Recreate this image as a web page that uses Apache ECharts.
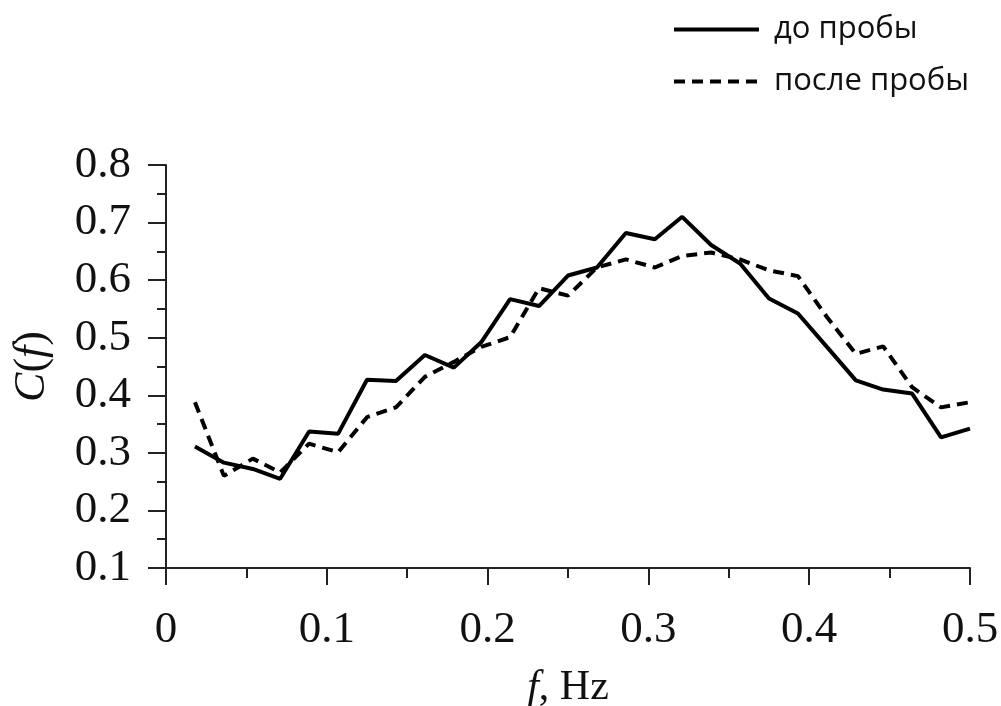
<!DOCTYPE html>
<html>
<head>
<meta charset="utf-8">
<script src="https://cdn.jsdelivr.net/npm/echarts@6/dist/echarts.min.js"></script>
<style>
  html, body { margin: 0; padding: 0; background: #fff; }
  #chart { width: 1001px; height: 706px; }
</style>
</head>
<body>
<div id="chart"></div>
<script>
const freq = [
  0.018, 0.036, 0.054, 0.071, 0.089, 0.107, 0.125, 0.143, 0.161, 0.179,
  0.196, 0.214, 0.232, 0.25, 0.268, 0.286, 0.304, 0.321, 0.339, 0.357,
  0.375, 0.393, 0.411, 0.429, 0.446, 0.464, 0.482, 0.5
]
const before = [
  0.311, 0.283, 0.272, 0.255, 0.337, 0.333, 0.427, 0.425, 0.47, 0.448,
  0.492, 0.567, 0.555, 0.608, 0.622, 0.682, 0.671, 0.71, 0.661, 0.629,
  0.568, 0.542, 0.484, 0.426, 0.41, 0.403, 0.327, 0.342
]
const after = [
  0.388, 0.26, 0.29, 0.266, 0.316, 0.301, 0.362, 0.379, 0.432, 0.458,
  0.484, 0.501, 0.586, 0.573, 0.622, 0.636, 0.622, 0.642, 0.648, 0.636,
  0.617, 0.607, 0.536, 0.472, 0.485, 0.414, 0.379, 0.388
]
const seriesNames = ['до пробы', 'после пробы']

const pairs = (ys) => freq.map((f, i) => [f, ys[i]])

const serif = 'Liberation Serif'
const axisColor = '#222'
const dash = [11, 7]

const chart = echarts.init(document.getElementById('chart'))

chart.setOption({
  animation: false,
  backgroundColor: '#fff',
  grid: {
    left: 166,
    top: 165,
    right: 31,
    bottom: 138,
    containLabel: false,
    outerBoundsMode: 'none',
  },
  legend: {
    orient: 'vertical',
    left: 667,
    top: 9,
    itemWidth: 85,
    itemHeight: 32,
    itemGap: 21,
    itemStyle: { opacity: 0 },
    lineStyle: { width: 4 },
    textStyle: {
      fontFamily: 'Open Sans',
      fontSize: 31,
      color: '#111',
      padding: [0, 0, 0, 10],
    },
    data: seriesNames,
  },
  xAxis: {
    type: 'value',
    min: 0,
    max: 0.5,
    interval: 0.1,
    axisLine: { show: true, onZero: false, lineStyle: { color: axisColor, width: 2 } },
    axisTick: { show: true, length: 17, lineStyle: { color: axisColor, width: 2 } },
    minorTick: { show: true, splitNumber: 2, length: 10, lineStyle: { color: axisColor, width: 2 } },
    splitLine: { show: false },
    axisLabel: {
      margin: 40,
      fontFamily: serif,
      fontSize: 45,
      color: '#111',
      formatter: (v) => (v === 0 ? '0' : v.toFixed(1)),
    },
    name: '{i|f}, Hz',
    nameLocation: 'middle',
    nameGap: 99,
    nameTextStyle: {
      fontFamily: serif,
      fontSize: 42,
      color: '#111',
      rich: { i: { fontFamily: serif, fontStyle: 'italic', fontSize: 42, color: '#111' } },
    },
  },
  yAxis: {
    type: 'value',
    min: 0.1,
    max: 0.8,
    interval: 0.1,
    axisLine: { show: true, onZero: false, lineStyle: { color: axisColor, width: 2 } },
    axisTick: { show: true, length: 18, lineStyle: { color: axisColor, width: 2 } },
    minorTick: { show: true, splitNumber: 2, length: 9, lineStyle: { color: axisColor, width: 2 } },
    splitLine: { show: false },
    axisLabel: {
      margin: 35,
      fontFamily: serif,
      fontSize: 45,
      color: '#111',
      formatter: (v) => v.toFixed(1),
    },
    name: '{i|C}({i|f})',
    nameLocation: 'middle',
    nameRotate: 90,
    nameGap: 112,
    nameTextStyle: {
      fontFamily: serif,
      fontSize: 44,
      color: '#111',
      rich: { i: { fontFamily: serif, fontStyle: 'italic', fontSize: 44, color: '#111' } },
    },
  },
  series: [
    {
      name: seriesNames[0],
      type: 'line',
      data: pairs(before),
      symbol: 'none',
      lineStyle: { color: '#000', width: 4, type: 'solid' },
      itemStyle: { color: '#000' },
    },
    {
      name: seriesNames[1],
      type: 'line',
      data: pairs(after),
      symbol: 'none',
      lineStyle: { color: '#000', width: 4, type: dash },
      itemStyle: { color: '#000' },
    },
  ],
})
</script>
</body>
</html>
